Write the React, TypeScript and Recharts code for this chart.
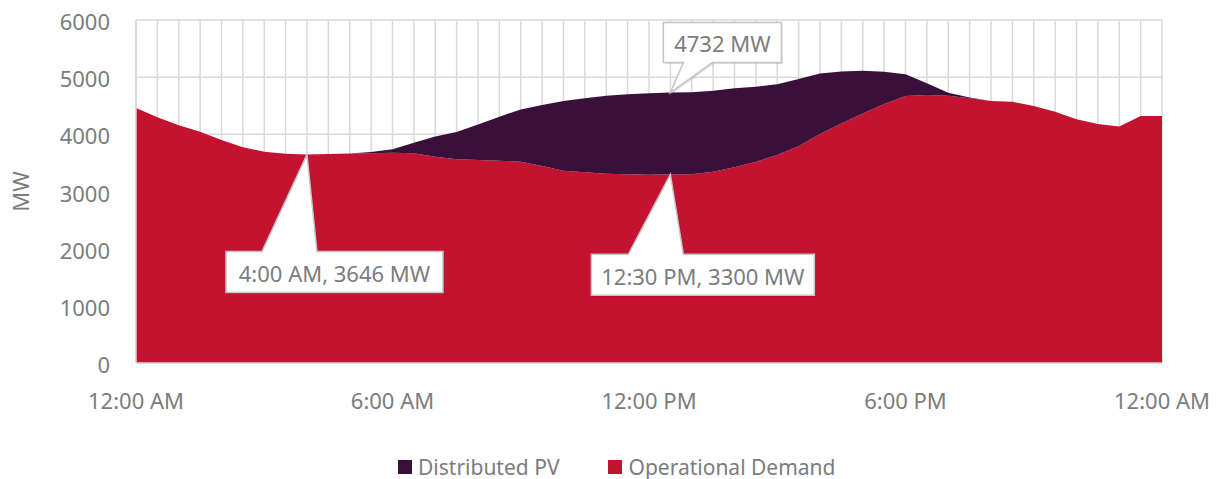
import React from 'react';
import { AreaChart, Area, XAxis, YAxis, CartesianGrid, Legend, ReferenceDot } from 'recharts';

// half-hour slots, 0 = 12:00 AM ... 48 = 12:00 AM next day
const tickSlots = [0, 12, 24, 36, 48];
const tickLabels = ['12:00 AM', '6:00 AM', '12:00 PM', '6:00 PM', '12:00 AM'];

const operationalDemand = [
  4460, 4300, 4160, 4045, 3900, 3775, 3695, 3660, 3646, 3655,
  3665, 3670, 3680, 3670, 3610, 3565, 3550, 3540, 3520, 3445,
  3365, 3335, 3310, 3300, 3295, 3300, 3300, 3345, 3425, 3520,
  3640, 3790, 4005, 4190, 4365, 4530, 4670, 4690, 4675, 4630,
  4585, 4570, 4495, 4395, 4265, 4180, 4135, 4320, 4320,
];

const distributedPV = [
  0, 0, 0, 0, 0, 0, 0, 0, 0, 0,
  0, 20, 58, 183, 350, 477, 620, 769, 915, 1067,
  1219, 1295, 1365, 1400, 1424, 1432, 1438, 1417, 1381, 1311,
  1236, 1180, 1061, 910, 746, 566, 380, 204, 52, 15,
  0, 0, 0, 0, 0, 0, 0, 0, 0,
];

const yTicks = [0, 1000, 2000, 3000, 4000, 5000, 6000];

const data = operationalDemand.map((d, i) => ({
  slot: i,
  demand: d,
  pv: distributedPV[i],
}));

const RED = '#C31331';
const PURPLE = '#38103A';
const TEXT = '#7c7c7c';
const GRID = '#d9d9d9';
const FONT = '"Noto Sans", sans-serif';

// callouts: point + box offsets (px) relative to the point
const callouts = [
  { slot: 8, value: 3646, text: '4:00 AM, 3646 MW', box: [-81, 97, 136, 138], base: [-45, 10], up: true },
  { slot: 25, value: 3300, text: '12:30 PM, 3300 MW', box: [-79, 80, 144, 121], base: [-42, 13], up: true },
  { slot: 25, value: 4732, text: '4732 MW', box: [-7, -70, 111, -30], base: [13, 42], up: false },
];

const Callout = (props: any) => {
  const { cx, cy, box, base, text, up } = props;
  const x1 = cx + box[0];
  const y1 = cy + box[1];
  const x2 = cx + box[2];
  const y2 = cy + box[3];
  const b1 = cx + base[0];
  const b2 = cx + base[1];
  const d = up
    ? `M${x1},${y1} L${b1},${y1} L${cx},${cy} L${b2},${y1} L${x2},${y1} L${x2},${y2} L${x1},${y2} Z`
    : `M${x1},${y1} L${x2},${y1} L${x2},${y2} L${b2},${y2} L${cx},${cy} L${b1},${y2} L${x1},${y2} Z`;
  return (
    <g>
      <path d={d} transform="translate(1.5,1.5)" fill="#000" opacity={0.12} />
      <path d={d} fill="#fff" stroke="#c4c4c4" strokeWidth={1.5} />
      <text
        x={(x1 + x2) / 2}
        y={(y1 + y2) / 2 + 1}
        textAnchor="middle"
        dominantBaseline="central"
        fill={TEXT}
        fontSize={22}
        fontFamily={FONT}
      >
        {text}
      </text>
    </g>
  );
};

const XTick = (props: any) => {
  const { x, y, payload } = props;
  const idx = tickSlots.indexOf(payload.value);
  if (idx < 0) return null;
  return (
    <text x={x} y={y + 37} textAnchor="middle" dominantBaseline="central" fill={TEXT} fontSize={22} fontFamily={FONT}>
      {tickLabels[idx]}
    </text>
  );
};

const YTick = (props: any) => {
  const { x, y, payload } = props;
  return (
    <text x={x - 26} y={y + 1} textAnchor="end" dominantBaseline="central" fill={TEXT} fontSize={22} fontFamily={FONT}>
      {payload.value}
    </text>
  );
};

const LegendContent = () => (
  <div style={{ height: 28, position: 'relative', fontFamily: FONT, fontSize: 21, color: TEXT }}>
    <div style={{ position: 'absolute', left: 390, top: 0, display: 'flex', alignItems: 'center', whiteSpace: 'nowrap' }}>
      <span style={{ display: 'inline-block', width: 14, height: 14, background: PURPLE, marginRight: 6 }} />
      <span>Distributed PV</span>
      <span style={{ display: 'inline-block', width: 14, height: 14, background: RED, marginLeft: 49, marginRight: 6 }} />
      <span>Operational Demand</span>
    </div>
  </div>
);

const App: React.FC = () => {
  const allSlots = data.map((d) => d.slot);
  return (
    <div style={{ width: 1211, height: 471 }}>
      <AreaChart width={1211} height={471} data={data} margin={{ top: 12, right: 57, left: 0, bottom: 48 }}>
        <CartesianGrid stroke={GRID} strokeWidth={1.5} />
        <XAxis
          dataKey="slot"
          type="number"
          domain={[0, 48]}
          ticks={allSlots}
          interval={0}
          tickLine={false}
          tickSize={0}
          tickMargin={0}
          height={40}
          axisLine={{ stroke: GRID, strokeWidth: 1.5 }}
          tick={<XTick />}
        />
        <YAxis
          type="number"
          domain={[0, 6000]}
          ticks={yTicks}
          interval={0}
          width={128}
          tickLine={false}
          tickSize={0}
          tickMargin={0}
          axisLine={{ stroke: GRID, strokeWidth: 1.5 }}
          tick={<YTick />}
          label={{
            content: (p: any) => (
              <text
                x={12}
                y={p.viewBox.y + p.viewBox.height / 2}
                transform={`rotate(-90, 12, ${p.viewBox.y + p.viewBox.height / 2})`}
                textAnchor="middle"
                dominantBaseline="central"
                fill={TEXT}
                fontSize={22}
                fontFamily={FONT}
              >
                MW
              </text>
            ),
          }}
        />
        <Area
          type="linear"
          dataKey="demand"
          name="Operational Demand"
          stackId="1"
          stroke="none"
          fill={RED}
          fillOpacity={1}
          isAnimationActive={false}
        />
        <Area
          type="linear"
          dataKey="pv"
          name="Distributed PV"
          stackId="1"
          stroke="none"
          fill={PURPLE}
          fillOpacity={1}
          isAnimationActive={false}
        />
        {callouts.map((c, i) => (
          <ReferenceDot
            key={i}
            x={c.slot}
            y={c.value}
            r={0}
            ifOverflow="visible"
            shape={(p: any) => <Callout {...p} box={c.box} base={c.base} text={c.text} up={c.up} />}
          />
        ))}
        <Legend
          verticalAlign="bottom"
          content={<LegendContent />}
          wrapperStyle={{ left: 0, top: 445, bottom: 'auto', width: 1211 }}
        />
      </AreaChart>
    </div>
  );
};

export default App;
